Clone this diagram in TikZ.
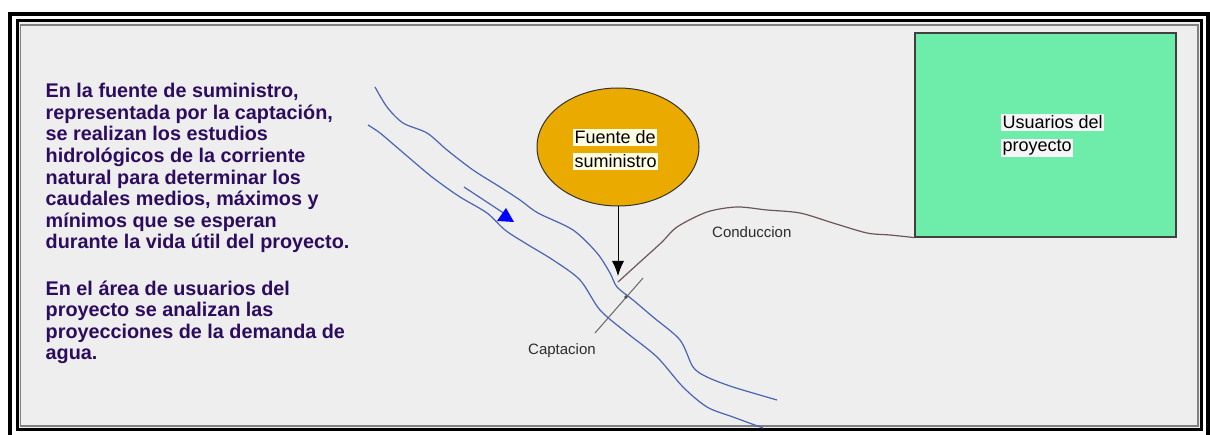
\documentclass[tikz,border=0pt]{standalone}
\usepackage{fontspec}
\setmainfont{Liberation Sans}
\usetikzlibrary{shapes.geometric,arrows.meta}
\definecolor{txtpurple}{RGB}{45,12,95}
\definecolor{panelgray}{RGB}{238,238,238}
\definecolor{orangefill}{RGB}{234,170,0}
\definecolor{mint}{RGB}{110,236,170}
\definecolor{riverblue}{RGB}{72,100,178}
\definecolor{pipebrown}{RGB}{110,85,85}
\definecolor{hlyellow}{RGB}{255,252,225}
\definecolor{hlgray}{RGB}{246,246,246}
\definecolor{labelgray}{RGB}{45,45,45}
\begin{document}
\begin{tikzpicture}[x=1pt,y=-1pt,
  lefttext/.style={inner sep=0pt, align=left, text=txtpurple,
    font=\fontsize{19.8}{21.6}\selectfont\bfseries},
  hl/.style={inner sep=1.5pt, font=\fontsize{18}{20}\selectfont, text=black},
  smalllabel/.style={inner sep=0pt, font=\fontsize{15}{17}\selectfont, text=labelgray},
  river/.style={draw=riverblue, line width=1.2pt, line join=round},
]
\useasboundingbox (0,0) rectangle (1210,435);
\fill[white] (0,0) rectangle (1210,435);
\fill[panelgray] (17,21) rectangle (1201,429);
\draw[line width=4pt] (10,14.5) rectangle (1207.5,450);
\draw[line width=3pt] (17,21) rectangle (1201,429);
\draw[gray, line width=1.2pt] (20.5,25) rectangle (1198,426);

% left text (base anchor = baseline of the last line)
\node[lefttext, anchor=base west] (p1) at (45.5,249) {En la fuente de suministro,\\
representada por la captación,\\
se realizan los estudios\\
hidrológicos de la corriente\\
natural para determinar los\\
caudales medios, máximos y\\
mínimos que se esperan\\
durante la vida útil del proyecto.};
\node[lefttext, anchor=base west] (p2) at (45.5,360) {En el área de usuarios del\\
proyecto se analizan las\\
proyecciones de la demanda de\\
agua.};

% river
\draw[river] plot[smooth, tension=0.5] coordinates {(375,87) (387,107) (403,123) (427,133) (447,150) (473,170) (500,187) (520,200) (538,213) (573,230) (597,253) (610,273) (617,287) (633,300) (653,317) (680,340) (693,367) (707,377) (733,387) (777,400)};
\draw[river] plot[smooth, tension=0.5] coordinates {(368,125) (380,133) (400,150) (427,173) (440,183) (460,197) (487,213) (505,230) (525,243) (553,260) (580,280) (600,310) (627,333) (657,357) (683,387) (707,407) (733,417) (763,428)};
% flow arrow
\coordinate (flowA) at (464,187);
\coordinate (flowB) at (505,214);
\draw[riverblue, line width=1.2pt] (flowA) -- (flowB);
\fill[blue] (497,221) -- (514,222) -- (506,208) -- cycle;

% source ellipse
\node[ellipse, draw=black!80, line width=1pt, fill=orangefill,
  minimum width=162pt, minimum height=118pt] (src) at (618,147) {};
\node[hl, fill=hlyellow, anchor=base west] (f1) at (573,144) {Fuente de};
\node[hl, fill=hlyellow, anchor=base west] (f2) at (573,168) {suministro};

% arrow down to intake
\coordinate (intake) at (618,276);
\draw[line width=1pt, -{Latex[length=15pt,width=12pt]}] (src.south) -- (intake);

% captacion
\coordinate (capA) at (595,333);
\coordinate (capB) at (643,278);
\draw[gray!80!black, line width=1pt] (capA) -- (capB);
\fill[black!70] (626,297) circle (1.8pt);
\node[smalllabel, anchor=base west] (capl) at (528,355) {Captacion};

% users box
\node[draw=black!75, line width=1.2pt, fill=mint, minimum width=261pt,
  minimum height=204pt] (users) at (1045.5,135) {};
\node[hl, fill=hlgray, anchor=base west] (u1) at (1001,129) {Usuarios del};
\node[hl, fill=hlgray, anchor=base west] (u2) at (1001,152) {proyecto};

% conduccion
\coordinate (pipeStart) at (618,282);
\draw[pipebrown, line width=1.2pt, line join=round] plot[smooth, tension=0.5] coordinates {(pipeStart) (640,262) (662,242) (677,227) (707,212) (737,207) (767,210) (800,213) (833,223) (867,233) (890,235) (users.south west)};
\node[smalllabel, anchor=base west] (condl) at (712,238) {Conduccion};
\end{tikzpicture}
\end{document}
